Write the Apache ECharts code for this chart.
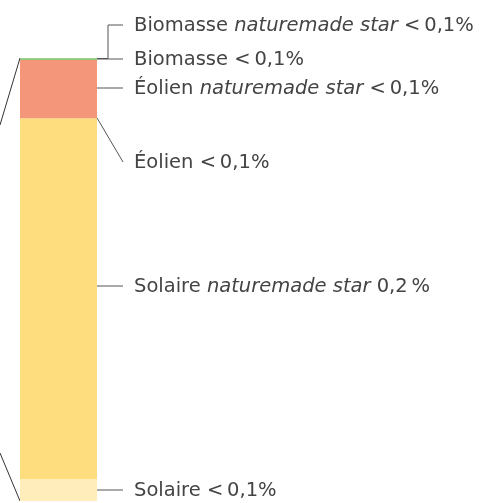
<!DOCTYPE html>
<html>
<head>
<meta charset="utf-8" />
<script src="https://cdn.jsdelivr.net/npm/echarts@6/dist/echarts.min.js"></script>
<style>
  html, body { margin: 0; padding: 0; background: #fff; }
  #chart { width: 488px; height: 503px; }
</style>
</head>
<body>
<div id="chart"></div>
<script>
// stack from bottom to top, values in %
var names = ['Solaire', 'Solaire star', 'Éolien', 'Éolien star', 'Biomasse', 'Biomasse star'];
var values = [0.0122, 0.2, 0.0002, 0.0321, 0.0009, 0.0002];
var colors = ['#FFEDBB', '#FDDD7E', '#F4967A', '#F4967A', '#8CC97A', '#8CC97A'];
var labelMain = ['Solaire', 'Solaire', 'Éolien', 'Éolien', 'Biomasse', 'Biomasse'];
var labelStar = [false, true, false, true, false, true];
var labelValue = ['<\u20090,1%', '0,2\u2009%', '<\u20090,1%', '<\u20090,1%', '<\u20090,1%', '<\u20090,1%'];

var total = 0;
for (var i = 0; i < values.length; i++) total += values[i];

var chart = echarts.init(document.getElementById('chart'));

var series = [];
for (var i = 0; i < values.length; i++) {
  series.push({
    name: names[i],
    type: 'bar',
    stack: 'all',
    barWidth: '100%',
    data: [values[i]],
    itemStyle: { color: colors[i] },
    silent: true
  });
}

chart.setOption({
  animation: false,
  grid: { left: 20, right: 391, top: 58, bottom: 2 },
  xAxis: { type: 'category', data: ['mix'], show: false },
  yAxis: { type: 'value', min: 0, max: total, show: false },
  series: series
});

// leader lines and labels
var barLeft = 20, barRight = 97, textX = 134, lineEnd = 123, elbowX = 108;
var labelY = [490, 286, 162, 88, 59, 25];
var kind = ['flat', 'flat', 'diag', 'flat', 'flat', 'elbow'];
var lineColor = '#555';
var font = 'DejaVu Sans';
var g = [];
var cum = 0;
for (var i = 0; i < values.length; i++) {
  var yTop = chart.convertToPixel({ gridIndex: 0 }, ['mix', cum + values[i]])[1];
  cum += values[i];
  var pts;
  if (kind[i] == 'flat') {
    pts = [[barRight, labelY[i]], [lineEnd, labelY[i]]];
  } else if (kind[i] == 'diag') {
    pts = [[barRight, yTop], [lineEnd, labelY[i]]];
  } else {
    pts = [[barRight, yTop + 0.5], [elbowX, yTop + 0.5], [elbowX, labelY[i]], [lineEnd, labelY[i]]];
  }
  g.push({ type: 'polyline', shape: { points: pts }, style: { stroke: lineColor, lineWidth: 1, fill: null } });

  var txt = labelStar[i]
    ? '{a|' + labelMain[i] + ' }{i|naturemade star}{a| ' + labelValue[i] + '}'
    : '{a|' + labelMain[i] + ' ' + labelValue[i] + '}';
  g.push({
    type: 'text',
    x: textX,
    y: labelY[i] + 1,
    style: {
      text: txt,
      verticalAlign: 'middle',
      rich: {
        a: { fontFamily: font, fontSize: 19.5, fill: '#444' },
        i: { fontFamily: font, fontSize: 19.5, fontStyle: 'italic', fill: '#444' }
      }
    }
  });
}

// connector lines from the previous chart to the left
var barTopY = chart.convertToPixel({ gridIndex: 0 }, ['mix', total])[1];
var barBottomY = chart.convertToPixel({ gridIndex: 0 }, ['mix', 0])[1];
g.push({ type: 'line', shape: { x1: barLeft, y1: barTopY, x2: 0, y2: 125 }, style: { stroke: '#333', lineWidth: 1 } });
g.push({ type: 'line', shape: { x1: barLeft, y1: barBottomY, x2: 0, y2: 453 }, style: { stroke: '#333', lineWidth: 1 } });

chart.setOption({ graphic: g });
</script>
</body>
</html>
